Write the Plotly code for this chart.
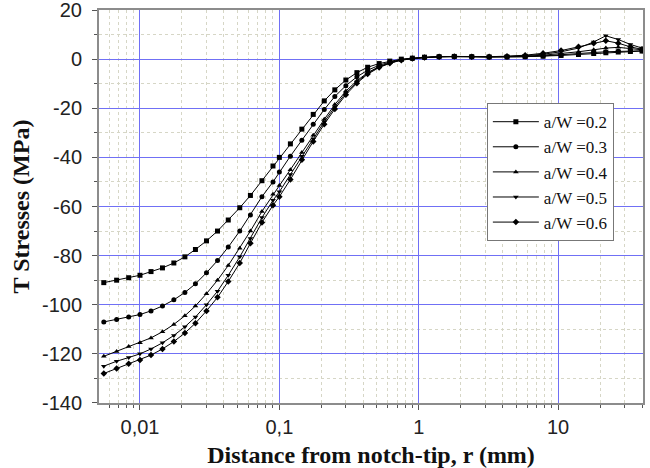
import plotly.graph_objects as go

r_mm = [0.0055, 0.0068, 0.0083, 0.01, 0.012, 0.0145, 0.0175, 0.021, 0.025, 0.03,
        0.036, 0.043, 0.052, 0.062, 0.075, 0.09, 0.1, 0.12, 0.145, 0.175,
        0.21, 0.25, 0.3, 0.36, 0.43, 0.52, 0.62, 0.75, 0.9, 1.1,
        1.4, 1.8, 2.4, 3.2, 4.3, 5.8, 7.8, 10.5, 14, 18,
        22, 27, 33, 40]

t_02 = [-91, -90, -89, -88, -86.5, -85, -83, -80.5, -77.5, -74,
        -70, -65.5, -60.5, -55.5, -49.5, -43.5, -40, -34.5, -28.5, -22.5,
        -17, -12.5, -8.5, -5.5, -3.3, -1.8, -0.8, 0, 0.4, 0.8,
        1.0, 1.1, 1.0, 0.9, 0.9, 1.0, 1.2, 1.5, 1.9, 2.3,
        2.6, 2.9, 3.1, 3.3]
t_03 = [-107, -106, -105, -104, -102.5, -100.5, -98, -95, -91.5, -87,
        -82, -76.5, -70, -63.5, -56, -50, -46, -39.5, -33, -26.5,
        -20.5, -15.2, -10.8, -7.2, -4.5, -2.5, -1.2, -0.2, 0.3, 0.7,
        1.0, 1.1, 1.0, 0.9, 0.9, 1.0, 1.3, 1.7, 2.2, 2.7,
        3.0, 3.2, 3.3, 3.4]
t_04 = [-121, -119, -117, -115.5, -113.5, -111, -108, -104.5, -100.5, -95.5,
        -90, -84, -77, -70, -62, -55, -51.5, -45, -38, -31,
        -24.5, -18.5, -13, -8.8, -5.5, -3, -1.5, -0.3, 0.3, 0.7,
        1.0, 1.1, 1.0, 0.9, 1.0, 1.2, 1.6, 2.2, 3.0, 3.8,
        4.5, 4.8, 4.4, 3.8]
t_05 = [-125, -123, -121.5, -120, -118, -115.5, -112.5, -109, -105, -100,
        -94.5, -88, -80.5, -73, -64.5, -57.5, -54, -47, -39.5, -32.5,
        -25.5, -19.5, -13.8, -9.3, -5.8, -3.2, -1.6, -0.3, 0.3, 0.7,
        1.0, 1.1, 1.0, 1.0, 1.1, 1.4, 2.0, 3.0, 4.5, 7.0,
        9.5, 8.0, 6.0, 4.5]
t_06 = [-128, -126, -124, -122.5, -120.5, -118, -115, -111.5, -107.5, -102.5,
        -97, -90.5, -83, -75, -66.5, -59.5, -56, -49, -41, -33.5,
        -26.5, -20.3, -14.5, -9.8, -6.1, -3.4, -1.7, -0.4, 0.3, 0.7,
        1.0, 1.1, 1.0, 1.0, 1.2, 1.6, 2.4, 3.5, 5.0, 6.5,
        7.5, 6.5, 5.0, 4.0]

series_names = ["a/W =0.2", "a/W =0.3", "a/W =0.4", "a/W =0.5", "a/W =0.6"]
series_vals = [t_02, t_03, t_04, t_05, t_06]
symbols = ["square", "circle", "triangle-up", "triangle-down", "diamond"]

x_tickvals = [0.01, 0.1, 1, 10]
x_ticktext = ["0,01", "0,1", "1", "10"]
y_tickvals = [20, 0, -20, -40, -60, -80, -100, -120, -140]
y_ticktext = ["20", "0", "-20", "-40", "-60", "-80", "-100", "-120", "-140"]

x_minor = []
for dec in [0.001, 0.01, 0.1, 1, 10]:
    for m in range(2, 10):
        x_minor.append(dec * m)

fig = go.Figure()
for name, vals, sym in zip(series_names, series_vals, symbols):
    fig.add_trace(go.Scatter(
        x=r_mm, y=vals, name=name, mode="lines+markers",
        line=dict(color="black", width=1),
        marker=dict(symbol=sym, size=5, color="black"),
    ))

grid_blue = "#7070f5"
grid_minor = "#d6d6c6"
axis_line = "#8c8c8c"

fig.update_layout(
    width=650, height=468,
    margin=dict(l=99, r=7, t=10, b=65),
    paper_bgcolor="white", plot_bgcolor="white",
    font=dict(family="Liberation Sans", size=20, color="#222"),
    showlegend=True,
    legend=dict(
        x=0.713, y=0.763, xanchor="left", yanchor="top",
        bgcolor="white", bordercolor="#777", borderwidth=1,
        font=dict(family="Liberation Serif", size=17, color="#111"),
        tracegroupgap=0, itemwidth=46,
    ),
    xaxis=dict(
        type="log", range=[-2.294, 1.609], automargin=False,
        tickmode="array", tickvals=x_tickvals, ticktext=x_ticktext,
        showgrid=True, gridcolor=grid_blue, gridwidth=1,
        ticks="outside", ticklen=5, tickcolor="#555",
        showline=True, linecolor=axis_line, linewidth=2, mirror=True,
        zeroline=False, ticklabeloverflow="allow",
        minor=dict(tickmode="array", tickvals=x_minor, ticks="outside", ticklen=3,
                   tickcolor="#555", showgrid=True, gridcolor=grid_minor,
                   griddash="dot", gridwidth=1),
        title=dict(text="<b>Distance from notch-tip, r (mm)</b>",
                   font=dict(family="Liberation Serif", size=24, color="#111"),
                   standoff=20),
    ),
    yaxis=dict(
        range=[-140.01, 20.01], automargin=False,
        tickmode="array", tickvals=y_tickvals, ticktext=y_ticktext,
        showgrid=True, gridcolor=grid_blue, gridwidth=1,
        ticks="outside", ticklen=5, tickcolor="#555",
        showline=True, linecolor=axis_line, linewidth=2, mirror=True,
        zeroline=False, ticklabelstandoff=6, ticklabeloverflow="allow",
        minor=dict(dtick=10, ticks="outside", ticklen=3, tickcolor="#555",
                   showgrid=True, gridcolor=grid_minor, griddash="dot", gridwidth=1),
        title=dict(text="<b>T Stresses (MPa)</b>",
                   font=dict(family="Liberation Serif", size=24, color="#111"),
                   standoff=6),
    ),
)

fig.write_html("out.html")
